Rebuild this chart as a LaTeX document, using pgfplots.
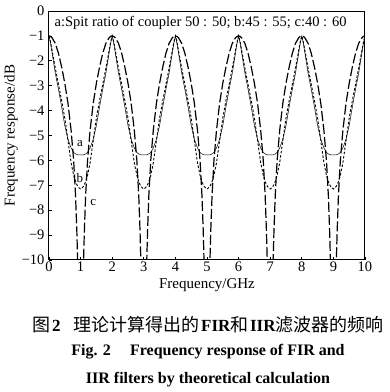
\documentclass[border=0pt]{standalone}
\usepackage{pgfplots}
\pgfplotsset{compat=1.18}
\usepackage{pgfplotstable}
\usepackage{fontspec}
\setmainfont{Liberation Serif}
\newfontfamily\cjk{Noto Sans CJK SC}

\pgfplotstableread{
x a b c
0 -1.00 -1.00 -1.00
0.05 -1.30 -1.25 -1.02
0.1 -1.70 -1.60 -1.08
0.2 -2.50 -2.30 -1.30
0.3 -3.15 -2.95 -1.70
0.4 -3.85 -3.60 -2.25
0.5 -4.60 -4.30 -2.90
0.6 -5.15 -5.20 -3.70
0.7 -5.50 -6.10 -4.80
0.78 -5.68 -6.60 -6.00
0.84 -5.74 -6.85 -7.40
0.88 -5.76 -6.97 -8.80
0.91 -5.78 -7.04 -10.2
0.95 -5.78 -7.10 -13.0
1.0 -5.78 -7.15 -20.0
1.05 -5.78 -7.10 -13.0
1.09 -5.78 -7.04 -10.2
1.12 -5.76 -6.97 -8.80
1.16 -5.74 -6.85 -7.40
1.22 -5.68 -6.60 -6.00
1.3 -5.50 -6.10 -4.80
1.4 -5.15 -5.20 -3.70
1.5 -4.60 -4.30 -2.90
1.6 -3.85 -3.60 -2.25
1.7 -3.15 -2.95 -1.70
1.8 -2.50 -2.30 -1.30
1.9 -1.70 -1.60 -1.08
1.95 -1.30 -1.25 -1.02
2 -1.00 -1.00 -1.00
2.05 -1.30 -1.25 -1.02
2.1 -1.70 -1.60 -1.08
2.2 -2.50 -2.30 -1.30
2.3 -3.15 -2.95 -1.70
2.4 -3.85 -3.60 -2.25
2.5 -4.60 -4.30 -2.90
2.6 -5.15 -5.20 -3.70
2.7 -5.50 -6.10 -4.80
2.78 -5.68 -6.60 -6.00
2.84 -5.74 -6.85 -7.40
2.88 -5.76 -6.97 -8.80
2.91 -5.78 -7.04 -10.2
2.95 -5.78 -7.10 -13.0
3.0 -5.78 -7.15 -20.0
3.05 -5.78 -7.10 -13.0
3.09 -5.78 -7.04 -10.2
3.12 -5.76 -6.97 -8.80
3.16 -5.74 -6.85 -7.40
3.22 -5.68 -6.60 -6.00
3.3 -5.50 -6.10 -4.80
3.4 -5.15 -5.20 -3.70
3.5 -4.60 -4.30 -2.90
3.6 -3.85 -3.60 -2.25
3.7 -3.15 -2.95 -1.70
3.8 -2.50 -2.30 -1.30
3.9 -1.70 -1.60 -1.08
3.95 -1.30 -1.25 -1.02
4 -1.00 -1.00 -1.00
4.05 -1.30 -1.25 -1.02
4.1 -1.70 -1.60 -1.08
4.2 -2.50 -2.30 -1.30
4.3 -3.15 -2.95 -1.70
4.4 -3.85 -3.60 -2.25
4.5 -4.60 -4.30 -2.90
4.6 -5.15 -5.20 -3.70
4.7 -5.50 -6.10 -4.80
4.78 -5.68 -6.60 -6.00
4.84 -5.74 -6.85 -7.40
4.88 -5.76 -6.97 -8.80
4.91 -5.78 -7.04 -10.2
4.95 -5.78 -7.10 -13.0
5.0 -5.78 -7.15 -20.0
5.05 -5.78 -7.10 -13.0
5.09 -5.78 -7.04 -10.2
5.12 -5.76 -6.97 -8.80
5.16 -5.74 -6.85 -7.40
5.22 -5.68 -6.60 -6.00
5.3 -5.50 -6.10 -4.80
5.4 -5.15 -5.20 -3.70
5.5 -4.60 -4.30 -2.90
5.6 -3.85 -3.60 -2.25
5.7 -3.15 -2.95 -1.70
5.8 -2.50 -2.30 -1.30
5.9 -1.70 -1.60 -1.08
5.95 -1.30 -1.25 -1.02
6 -1.00 -1.00 -1.00
6.05 -1.30 -1.25 -1.02
6.1 -1.70 -1.60 -1.08
6.2 -2.50 -2.30 -1.30
6.3 -3.15 -2.95 -1.70
6.4 -3.85 -3.60 -2.25
6.5 -4.60 -4.30 -2.90
6.6 -5.15 -5.20 -3.70
6.7 -5.50 -6.10 -4.80
6.78 -5.68 -6.60 -6.00
6.84 -5.74 -6.85 -7.40
6.88 -5.76 -6.97 -8.80
6.91 -5.78 -7.04 -10.2
6.95 -5.78 -7.10 -13.0
7.0 -5.78 -7.15 -20.0
7.05 -5.78 -7.10 -13.0
7.09 -5.78 -7.04 -10.2
7.12 -5.76 -6.97 -8.80
7.16 -5.74 -6.85 -7.40
7.22 -5.68 -6.60 -6.00
7.3 -5.50 -6.10 -4.80
7.4 -5.15 -5.20 -3.70
7.5 -4.60 -4.30 -2.90
7.6 -3.85 -3.60 -2.25
7.7 -3.15 -2.95 -1.70
7.8 -2.50 -2.30 -1.30
7.9 -1.70 -1.60 -1.08
7.95 -1.30 -1.25 -1.02
8 -1.00 -1.00 -1.00
8.05 -1.30 -1.25 -1.02
8.1 -1.70 -1.60 -1.08
8.2 -2.50 -2.30 -1.30
8.3 -3.15 -2.95 -1.70
8.4 -3.85 -3.60 -2.25
8.5 -4.60 -4.30 -2.90
8.6 -5.15 -5.20 -3.70
8.7 -5.50 -6.10 -4.80
8.78 -5.68 -6.60 -6.00
8.84 -5.74 -6.85 -7.40
8.88 -5.76 -6.97 -8.80
8.91 -5.78 -7.04 -10.2
8.95 -5.78 -7.10 -13.0
9.0 -5.78 -7.15 -20.0
9.05 -5.78 -7.10 -13.0
9.09 -5.78 -7.04 -10.2
9.12 -5.76 -6.97 -8.80
9.16 -5.74 -6.85 -7.40
9.22 -5.68 -6.60 -6.00
9.3 -5.50 -6.10 -4.80
9.4 -5.15 -5.20 -3.70
9.5 -4.60 -4.30 -2.90
9.6 -3.85 -3.60 -2.25
9.7 -3.15 -2.95 -1.70
9.8 -2.50 -2.30 -1.30
9.9 -1.70 -1.60 -1.08
9.95 -1.30 -1.25 -1.02
10 -1.00 -1.00 -1.00
}\data

\begin{document}
\begin{tikzpicture}[x=1pt,y=1pt]
\path[use as bounding box] (-49,-132) rectangle (341,260);
\begin{axis}[
  at={(0,0)}, anchor=south west,
  scale only axis, width=316pt, height=249pt,
  xmin=0, xmax=10, ymin=-10, ymax=0,
  xtick={0,1,...,10},
  ytick={-10,-9,...,0},
  yticklabels={−10,−9,−8,−7,−6,−5,−4,−3,−2,−1,0},
  /pgf/number format/assume math mode=true,
  tick align=inside,
  xtick pos=bottom, ytick pos=left,
  major tick length=3pt,
  axis line style={line width=1pt},
  tick style={line width=0.6pt, black},
  tick label style={font=\fontsize{14.5}{16}\selectfont},
  yticklabel style={xshift=-1pt},
  xticklabel style={yshift=1.5pt},
  xlabel={Frequency/GHz},
  ylabel={Frequency response/dB},
  label style={font=\fontsize{15}{17}\selectfont},
  xlabel style={at={(axis description cs:0.5,-0.1)}, anchor=center},
  ylabel style={at={(axis description cs:-0.12,0.5)}, anchor=center},
  clip=true,
]
\addplot[black, line width=0.5pt] table[x=x, y=a] {\data};
\addplot[black, line width=0.9pt, dash pattern=on 2.5pt off 1.8pt] table[x=x, y=b] {\data};
\addplot[black, line width=1.2pt, dash pattern=on 10pt off 3pt] table[x=x, y=c] {\data};
\node[anchor=west, font=\fontsize{14.5}{16}\selectfont, inner sep=0pt] at (axis cs:0.17,-0.47) {a:Spit ratio of coupler 50 : 50; b:45 : 55; c:40 : 60};
\node[font=\fontsize{13}{15}\selectfont, inner sep=0pt] at (axis cs:0.98,-5.34) {a};
\node[font=\fontsize{13}{15}\selectfont, inner sep=0pt] at (axis cs:0.98,-6.7) {b};
\node[font=\fontsize{13}{15}\selectfont, inner sep=0pt] at (axis cs:1.4,-7.7) {c};
\end{axis}
\node at (159,-65) {{\cjk\fontsize{18}{20}\selectfont 图}\,{\fontsize{17}{20}\selectfont\bfseries 2}\hspace{1.3em}{\cjk\fontsize{18}{20}\selectfont 理论计算得出的}\,{\fontsize{17}{20}\selectfont\bfseries FIR}{\cjk\fontsize{18}{20}\selectfont 和}\,{\fontsize{17}{20}\selectfont\bfseries IIR}{\cjk\fontsize{18}{20}\selectfont 滤波器的频响}};
\node[font=\fontsize{16}{18}\selectfont\bfseries] at (159,-92) {Fig. 2\hspace{1.2em}Frequency response of FIR and};
\node[font=\fontsize{16}{18}\selectfont\bfseries] at (159,-120) {IIR filters by theoretical calculation};
\end{tikzpicture}
\end{document}
